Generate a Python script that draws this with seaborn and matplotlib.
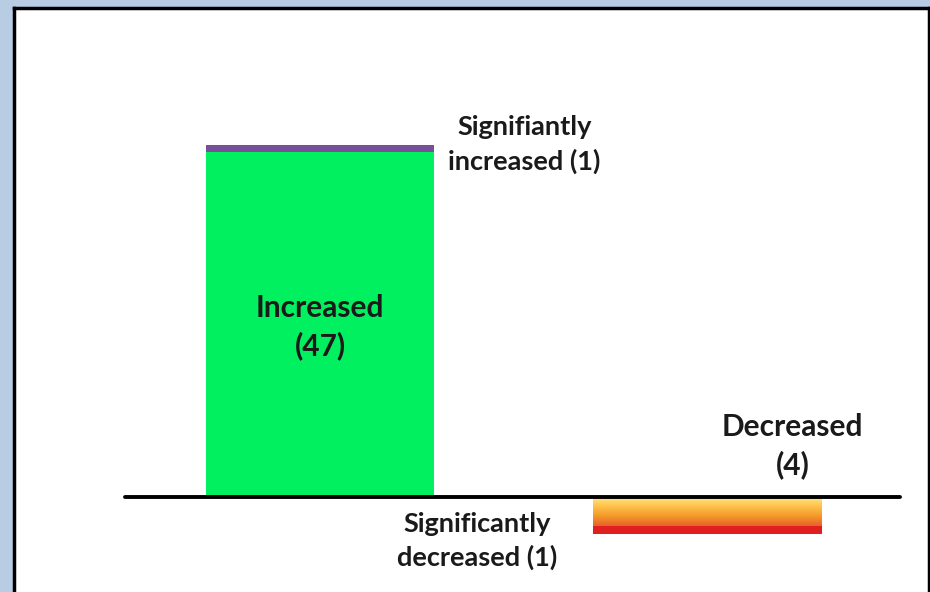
import numpy as np
import pandas as pd
import matplotlib
matplotlib.use("Agg")
import matplotlib.pyplot as plt
import seaborn as sns
from matplotlib.colors import LinearSegmentedColormap

# ---- data ----
categories = ["Increased", "Decreased"]
main_values = [47, -4]           # increased / decreased genes
significant_values = [1, -1]     # significantly increased / decreased
main_labels = ["Increased\n(47)", "Decreased\n(4)"]
sig_labels = ["Signifiantly\nincreased (1)", "Significantly\ndecreased (1)"]

sns.set_theme(style="white")
plt.rcParams["font.family"] = ["Lato", "DejaVu Sans"]

W, H = 930, 592
fig = plt.figure(figsize=(W / 100, H / 100), dpi=100)
fig.patch.set_facecolor("#b8cce4")

# panel in pixels
pl, pr, pt, pb = 14, 929, 8, 592
ax = fig.add_axes([pl / W, 1 - pb / H, (pr - pl) / W, (pb - pt) / H])
ax.set_facecolor("white")

totals = [m + s for m, s in zip(main_values, significant_values)]
df_tot = pd.DataFrame({"cat": categories, "val": totals})
df_main = pd.DataFrame({"cat": categories, "val": main_values})

bw = 0.59
sns.barplot(data=df_tot, x="cat", y="val", hue="cat",
            palette=["#7a4f9a", "#e02020"], width=bw, ax=ax,
            legend=False, saturation=1, linewidth=0)
n_before = len(ax.patches)
sns.barplot(data=df_main, x="cat", y="val", hue="cat",
            palette=["#00f060", "#ffd050"], width=bw, ax=ax,
            legend=False, saturation=1, linewidth=0)
main_patches = ax.patches[n_before:]

# scale: category spacing 387.5 px, y 7.33 px/unit, baseline at 497 px
cx0, dx = 320.0, 387.5
ypx, base = 7.33, 497.0

# gradient on decreased bar
dec = main_patches[1]
x0, y0 = dec.get_x(), dec.get_y()
w, h = dec.get_width(), dec.get_height()
grad_cmap = LinearSegmentedColormap.from_list(
    "g", ["#ffe98a", "#ffc24a", "#f39a2a", "#e8602a"])
grad = np.linspace(0, 1, 100).reshape(-1, 1)
im = ax.imshow(grad, aspect="auto", cmap=grad_cmap, origin="upper",
               extent=[x0, x0 + w, min(y0, y0 + h), max(y0, y0 + h)],
               zorder=dec.get_zorder() + 0.1)
im.set_clip_path(dec)
ax.set_xlim((pl - cx0) / dx, (pr - cx0) / dx)
ax.set_ylim(-(pb - base) / ypx, (base - pt) / ypx)

# baseline
ax.axhline(0, xmin=(125 - pl) / (pr - pl), xmax=(900 - pl) / (pr - pl),
           color="black", lw=2.8, zorder=5)

txt = dict(color="#1a1a1a", fontweight="bold", ha="center", va="center")
ax.text(0, 23.2, main_labels[0], fontsize=21.5, linespacing=1.38, **txt)
ax.text(1.22, 6.9, main_labels[1], fontsize=21.5, linespacing=1.38, **txt)
ax.text(0.528, 48.1, sig_labels[0], fontsize=19.5, linespacing=1.45, **txt)
ax.text(0.406, -6.0, sig_labels[1], fontsize=19.5, linespacing=1.45, **txt)

ax.set_xlabel("")
ax.set_ylabel("")
ax.set_xticks([])
ax.set_yticks([])
for side in ["left", "top", "right"]:
    ax.spines[side].set_visible(True)
    ax.spines[side].set_color("black")
    ax.spines[side].set_linewidth(2.5)
ax.spines["bottom"].set_visible(False)

fig.savefig("out.png", dpi=100, facecolor=fig.get_facecolor())
